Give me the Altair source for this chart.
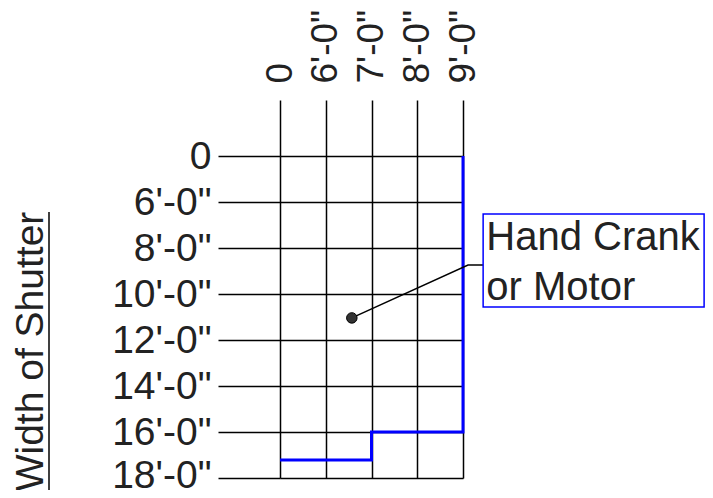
import json
import altair as alt
import pandas as pd

# ---- data -------------------------------------------------------------
x_labels = ["0", "6'-0\"", "7'-0\"", "8'-0\"", "9'-0\""]
y_labels = ["0", "6'-0\"", "8'-0\"", "10'-0\"", "12'-0\"", "14'-0\"", "16'-0\"", "18'-0\""]
y_title = "Width of Shutter"

# blue step boundary (grid index units)
step_x = [4, 4, 2, 2, 0]
step_y = [0, 6, 6, 6.61, 6.61]

# annotation "Hand Crank or Motor"
dot_x = [1.57]
dot_y = [3.52]
leader_x = [1.57, 4.11, 4.44]
leader_y = [3.52, 2.37, 2.37]
box_x = [4.44, 9.27]
box_y = [1.26, 3.28]
note_lines = ["Hand Crank", "or Motor"]
note_x = [4.51, 4.51]
note_y = [2.04, 3.13]

FONT = "Liberation Sans"
TXT = "#222222"

step_df = pd.DataFrame({"x": step_x, "y": step_y, "o": list(range(len(step_x)))})
dot_df = pd.DataFrame({"x": dot_x, "y": dot_y})
leader_df = pd.DataFrame({"x": leader_x, "y": leader_y, "o": list(range(len(leader_x)))})
box_df = pd.DataFrame({"x": [box_x[0]], "x2": [box_x[1]], "y": [box_y[0]], "y2": [box_y[1]]})
note_df = pd.DataFrame({"x": note_x, "y": note_y, "t": note_lines})
one_df = pd.DataFrame({"a": [0]})

xs = alt.Scale(domain=[0, len(x_labels) - 1], nice=False, zero=False)
ys = alt.Scale(domain=[0, len(y_labels) - 1], nice=False, zero=False, reverse=True)

x_axis = alt.Axis(
    orient="top", values=list(range(len(x_labels))),
    labelExpr=json.dumps(x_labels) + "[datum.value]",
    labelAngle=270, labelFontSize=37, labelFont=FONT, labelColor=TXT,
    labelPadding=17, labelFlush=False, labelOverlap=False,
    tickSize=56, tickColor="black", tickWidth=1.5,
    grid=True, gridColor="black", gridWidth=1.5, gridOpacity=1,
    domain=False, title=None,
)
y_axis = alt.Axis(
    orient="left", values=list(range(len(y_labels))),
    labelExpr=json.dumps(y_labels) + "[datum.value]",
    labelFontSize=39, labelFont=FONT, labelColor=TXT,
    labelPadding=7, labelFlush=False, labelOverlap=False,
    labelOffset={"condition": {"test": f"datum.value == {len(y_labels) - 1}", "value": -3},
                 "value": 0},
    tickSize=62, tickColor="black", tickWidth=1.5,
    grid=True, gridColor="black", gridWidth=1.5, gridOpacity=1,
    domain=False,
    title=y_title, titleFontSize=39, titleFont=FONT, titleColor=TXT,
    titleFontWeight="normal", titleAngle=270, titleAlign="center",
    titleBaseline="alphabetic", titleX=-238, titleY=195,
)


def X(field="x"):
    return alt.X(f"{field}:Q", scale=xs, axis=x_axis)


def Y(field="y"):
    return alt.Y(f"{field}:Q", scale=ys, axis=y_axis)


step = alt.Chart(step_df).mark_line(color="#0000ff", strokeWidth=3).encode(
    x=X(), y=Y(), order="o:Q")

leader = alt.Chart(leader_df).mark_line(color="black", strokeWidth=1.5).encode(
    x=X(), y=Y(), order="o:Q")

dot = alt.Chart(dot_df).mark_circle(size=110, color="#333333", opacity=1,
                                    stroke="black", strokeWidth=1).encode(x=X(), y=Y())

box = alt.Chart(box_df).mark_rect(fill="white", fillOpacity=0, stroke="#0000ff",
                                  strokeWidth=1.5).encode(
    x=X(), x2="x2:Q", y=Y(), y2="y2:Q")

note = alt.Chart(note_df).mark_text(align="left", baseline="alphabetic", fontSize=40,
                                    font=FONT, color=TXT).encode(
    x=X(), y=Y(), text="t:N")

underline = alt.Chart(one_df).mark_rule(color="black", strokeWidth=1.5).encode(
    x=alt.value(-231), y=alt.value(56), y2=alt.value(334))

chart = alt.layer(step, leader, box, dot, note, underline).properties(
    width=183, height=322,
    autosize=alt.AutoSizeParams(type="none"),
    padding={"left": 272, "top": 148, "right": 242, "bottom": 12},
).configure_view(strokeWidth=0).configure(font=FONT)

chart.save("out.html", embed_options={"renderer": "svg", "actions": False})
